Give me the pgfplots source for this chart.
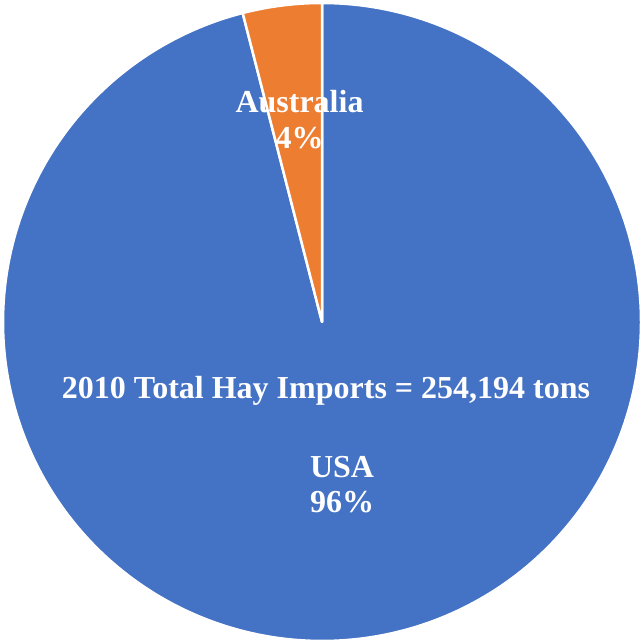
\documentclass[border=0pt]{standalone}
\usepackage{pgfplots}
\usepackage{pgfplotstable}
\pgfplotsset{compat=1.18}
\usepackage{fontspec}
\setmainfont{Liberation Serif}
\definecolor{usablue}{HTML}{4472C4}
\definecolor{ausorange}{HTML}{ED7D31}
\pgfplotstableread{
country value
USA 96
Australia 4
}\shares
\begin{document}
\begin{tikzpicture}
\pgfplotstablegetelem{0}{value}\of\shares\let\usaval\pgfplotsretval
\pgfplotstablegetelem{1}{value}\of\shares\let\ausval\pgfplotsretval
\pgfmathsetmacro\aStart{90}
\pgfmathsetmacro\aMid{90+3.6*\ausval}
\pgfmathsetmacro\aEnd{\aMid+3.6*\usaval}
\begin{axis}[scale only axis, width=642pt, height=641pt,
  xmin=-1.0094, xmax=1.0031, ymin=-1.0, ymax=1.0094,
  hide axis, clip=false]
\addplot[fill=usablue, draw=white, line width=2.5pt, line join=round,
  domain=\aMid:\aEnd, samples=300, variable=\t] ({cos(\t)},{sin(\t)}) -- (axis cs:0,0) -- cycle;
\addplot[fill=ausorange, draw=white, line width=2.5pt, line join=round,
  domain=\aStart:\aMid, samples=30, variable=\t] ({cos(\t)},{sin(\t)}) -- (axis cs:0,0) -- cycle;
\begin{scope}[every node/.style={text=white, font=\bfseries\fontsize{32}{36}\selectfont, anchor=base, inner sep=0pt}]
\node at (axis cs:-0.0705,0.658) {Australia};
\node at (axis cs:-0.0705,0.545) {4\%};
\node at (axis cs:0.0125,-0.241) {2010 Total Hay Imports = 254,194 tons};
\node at (axis cs:0.063,-0.486) {USA};
\node at (axis cs:0.063,-0.596) {96\%};
\end{scope}
\coordinate (BBSW) at (rel axis cs:0,0);
\coordinate (BBNE) at (rel axis cs:1,1);
\end{axis}
\pgfresetboundingbox
\path (BBSW) rectangle (BBNE);
\end{tikzpicture}
\end{document}
